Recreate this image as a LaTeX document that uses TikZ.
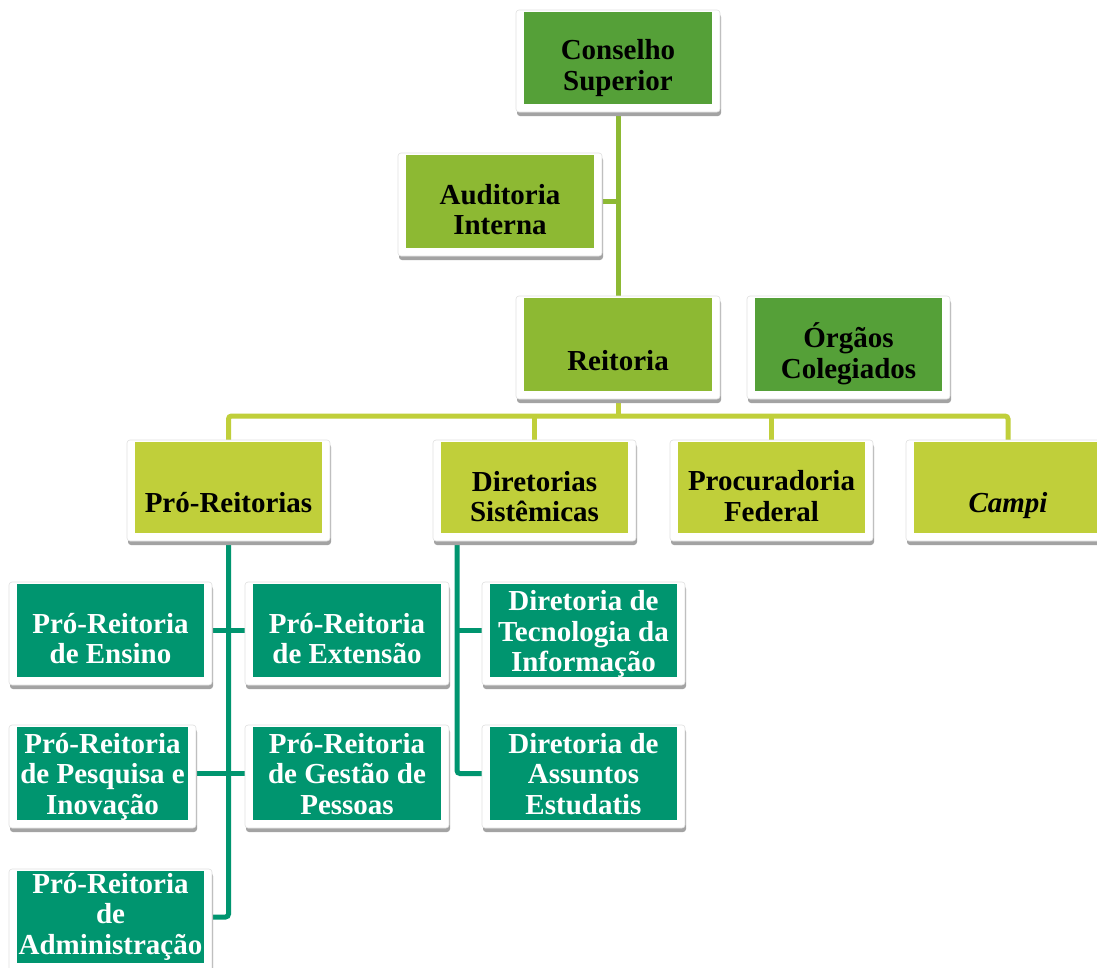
\documentclass[tikz,border=0pt]{standalone}
\usepackage{fontspec}
\setmainfont{Liberation Serif}
\definecolor{dkgreen}{HTML}{55A038}
\definecolor{mdgreen}{HTML}{8DB933}
\definecolor{limegr}{HTML}{C0CF3A}
\definecolor{tealgr}{HTML}{00956F}
\definecolor{shadowgr}{HTML}{A3A3A3}
\pgfdeclarelayer{paper}
\pgfdeclarelayer{behind}
\pgfsetlayers{paper,behind,main}
\tikzset{
  boxshadow/.style={fill=shadowgr, rounded corners=3pt},
  boxframe/.style={fill=white, draw=black!12, line width=0.6pt, rounded corners=3pt},
  boxfill/.style={inner sep=0pt, outer sep=0pt, draw=none},
  txt/.style={align=center, inner sep=0pt, font=\fontsize{29}{30.5}\selectfont\bfseries},
  darktxt/.style={txt, text=black},
  lighttxt/.style={txt, text=white},
  conA/.style={draw=mdgreen, line width=5pt},
  conB/.style={draw=limegr, line width=5pt},
  conC/.style={draw=tealgr, line width=5pt},
}
% #1 name, #2 x0, #3 y0, #4 x1, #5 y1, #6 colour
\newcommand\orgbox[6]{%
  \path[boxshadow] (#2-8+1,#3-2+4) rectangle (#4+8+1,#5+8+4);
  \path[boxframe] (#2-8,#3-2) rectangle (#4+8,#5+8);
  \node[boxfill, fill=#6, minimum width={#4pt-#2pt}, minimum height={#5pt-#3pt}]
    (#1) at ({(#2+#4)/2},{(#3+#5)/2}) {};
}
\begin{document}
\begin{tikzpicture}[x=1pt,y=-1pt]
\useasboundingbox (0,0) rectangle (1097,967);
\begin{pgfonlayer}{paper}
  \fill[white] (0,0) rectangle (1097,967);
\end{pgfonlayer}

\orgbox{cs}{524}{12}{712}{104}{dkgreen}
\orgbox{au}{406}{155}{594}{248}{mdgreen}
\orgbox{re}{524}{298}{712}{391}{mdgreen}
\orgbox{og}{755}{298}{942}{391}{dkgreen}
\orgbox{pr}{135}{442}{322}{533}{limegr}
\orgbox{ds}{441}{442}{628}{533}{limegr}
\orgbox{pf}{678}{442}{865}{533}{limegr}
\orgbox{ca}{914}{442}{1102}{533}{limegr}
\orgbox{ens}{17}{584}{204}{677}{tealgr}
\orgbox{ext}{253}{584}{441}{677}{tealgr}
\orgbox{pes}{17}{727}{188}{820}{tealgr}
\orgbox{ges}{253}{727}{441}{820}{tealgr}
\orgbox{adm}{17}{871}{204}{963}{tealgr}
\orgbox{ti}{490}{584}{677}{677}{tealgr}
\orgbox{ae}{490}{727}{677}{820}{tealgr}

\node[darktxt] (cs-t) at (618,69) {\strut Conselho\\Superior\strut};
\node[darktxt] (au-t) at (500,213.5) {\strut Auditoria\\Interna\strut};
\node[darktxt] (re-t) at (618,364.5) {\strut Reitoria};
\node[darktxt] (og-t) at (848.5,355) {\strut Órgãos\\Colegiados\strut};
\node[darktxt] (pr-t) at (228.5,506) {\strut Pró-Reitorias};
\node[darktxt] (ds-t) at (534.5,500.5) {\strut Diretorias\\Sistêmicas\strut};
\node[darktxt] (pf-t) at (771.5,500) {\strut Procuradoria\\Federal\strut};
\node[darktxt] (ca-t) at (1008,506) {\strut\textit{Campi}};
\node[lighttxt] (ens-t) at (110.5,642.5) {\strut Pró-Reitoria\\de Ensino\strut};
\node[lighttxt] (ext-t) at (347,642.5) {\strut Pró-Reitoria\\de Extensão\strut};
\node[lighttxt] (pes-t) at (102.5,777.5) {\strut Pró-Reitoria\\de Pesquisa e\\Inovação\strut};
\node[lighttxt] (ges-t) at (347,777.5) {\strut Pró-Reitoria\\de Gestão de\\Pessoas\strut};
\node[lighttxt] (adm-t) at (110.5,917.5) {\strut Pró-Reitoria\\de\\Administração\strut};
\node[lighttxt] (ti-t) at (583.5,635) {\strut Diretoria de\\Tecnologia da\\Informação\strut};
\node[lighttxt] (ae-t) at (583.5,777.5) {\strut Diretoria de\\Assuntos\\Estudatis\strut};

\coordinate (bar) at (0,416);
\coordinate (dsx) at (457,533);

\begin{pgfonlayer}{behind}
  \draw[conA] (cs.south) -- (re.north);
  \draw[conA] (au.east) -- (au.east -| cs.south);
  \draw[conB] (re.south) -- (re.south |- bar);
  \draw[conB, rounded corners=3pt] (pr.north) -- (pr.north |- bar) -- (ca.north |- bar) -- (ca.north);
  \draw[conB] (ds.north) -- (ds.north |- bar);
  \draw[conB] (pf.north) -- (pf.north |- bar);
  \draw[conC, rounded corners=3pt] (pr.south) |- (adm.east);
  \draw[conC] (ens.east) -- (ext.west);
  \draw[conC] (pes.east) -- (ges.west);
  \draw[conC, rounded corners=3pt] (dsx) |- (ae.west);
  \draw[conC] (ti.west) -- (ti.west -| dsx);
\end{pgfonlayer}
\end{tikzpicture}
\end{document}
